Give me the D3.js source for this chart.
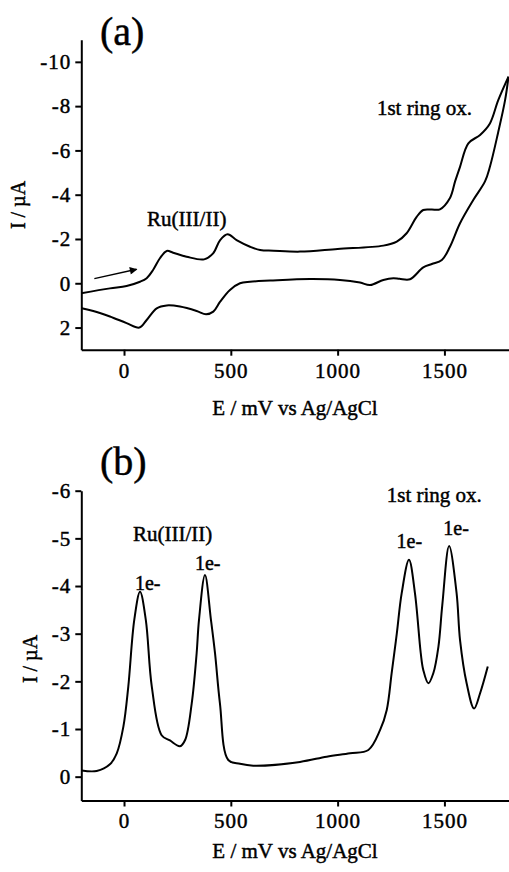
<!DOCTYPE html>
<html>
<head>
<meta charset="utf-8">
<script src="https://cdn.jsdelivr.net/npm/d3@7"></script>
<style>
  body { margin: 0; background: #fff; }
  svg { display: block; font-family: "Liberation Serif", "Times New Roman", serif; }
  svg text { fill: #000; stroke: #000; stroke-width: 0.45px; }
  .axis path, .axis line { stroke: #000; stroke-width: 2; }
  .axis text { font-family: "Liberation Serif", serif; font-size: 21px; letter-spacing: 1px; }
</style>
</head>
<body>
<div id="chart"></div>
<script>
// (a) cyclic voltammogram, forward scan
var cvFwdE = [-200, -66, 12, 75, 106, 136, 168, 200, 230, 293, 375, 417, 450, 485, 527, 590, 637, 700, 824, 1000, 1214, 1277, 1323, 1370, 1401, 1440, 1479, 1526, 1550, 1573, 1612, 1667, 1713, 1752, 1800]
var cvFwdI = [0.45, 0.23, 0.12, -0.07, -0.23, -0.6, -1.13, -1.46, -1.38, -1.2, -1.08, -1.35, -1.95, -2.21, -1.95, -1.65, -1.5, -1.47, -1.43, -1.55, -1.7, -1.88, -2.26, -3.0, -3.31, -3.33, -3.34, -3.85, -4.6, -5.26, -6.32, -6.7, -7.22, -8.27, -9.33]
// (a) reverse scan
var cvRevE = [1800, 1784, 1751, 1713, 1690, 1635, 1573, 1526, 1488, 1441, 1401, 1339, 1290, 1261, 1214, 1152, 1105, 1011, 871, 684, 590, 543, 496, 450, 418, 384, 340, 262, 200, 153, 106, 72, 12, -66, -144, -198]
var cvRevI = [-9.33, -8.27, -6.79, -5.26, -4.6, -3.76, -2.71, -1.65, -1.05, -0.87, -0.72, -0.18, -0.2, -0.23, -0.15, 0.08, -0.03, -0.15, -0.19, -0.12, -0.07, 0, 0.3, 0.83, 1.28, 1.4, 1.25, 1.05, 1.0, 1.13, 1.66, 2.0, 1.8, 1.5, 1.25, 1.13]

// (b) differential pulse voltammogram
var dpvE = [-198, -128, -66, -34, -3, 20, 48, 75, 102, 130, 176, 215, 262, 286, 317, 340, 351, 379, 407, 426, 449, 488, 543, 605, 824, 949, 1058, 1144, 1199, 1230, 1253, 1277, 1300, 1334, 1362, 1389, 1401, 1425, 1448, 1472, 1490, 1522, 1557, 1573, 1604, 1639, 1667, 1703]
var dpvI = [-0.13, -0.12, -0.26, -0.49, -1.05, -1.89, -3.29, -3.88, -3.29, -1.89, -0.87, -0.76, -0.64, -0.77, -1.54, -2.59, -3.29, -4.23, -3.29, -2.59, -1.54, -0.35, -0.27, -0.23, -0.31, -0.42, -0.49, -0.56, -0.98, -1.40, -2.17, -3.0, -3.85, -4.55, -3.85, -2.6, -2.24, -1.96, -2.17, -2.73, -3.6, -4.84, -3.85, -2.87, -1.96, -1.43, -1.75, -2.31]

var xTicks = [0, 500, 1000, 1500]
var yTicksA = [-10, -8, -6, -4, -2, 0, 2]
var yTicksB = [-6, -5, -4, -3, -2, -1, 0]

// annotation anchors in data units (E, I)
var labelsA = [
  {text: 'Ru(III/II)', E: 108, I: -2.59},
  {text: '1st ring ox.', E: 1184, I: -7.6}
]
var labelsB = [
  {text: 'Ru(III/II)', E: 42, I: -4.95, size: 21},
  {text: '1e-', E: 51, I: -3.92, size: 20},
  {text: '1e-', E: 332, I: -4.34, size: 20},
  {text: '1st ring ox.', E: 1230, I: -5.77, size: 21},
  {text: '1e-', E: 1276, I: -4.79, size: 20},
  {text: '1e-', E: 1495, I: -5.07, size: 20}
]
var arrowA = [{E: -139, I: -0.21}, {E: 59, I: -0.63}]

var width = 509, height = 872

var svg = d3.select('#chart')
  .append('svg')
  .attr('width', width)
  .attr('height', height)

svg.append('defs').append('marker')
  .attr('id', 'arrowhead')
  .attr('viewBox', '0 0 10 10')
  .attr('refX', 9)
  .attr('refY', 5)
  .attr('markerWidth', 6)
  .attr('markerHeight', 5)
  .attr('orient', 'auto')
  .append('path')
  .attr('d', 'M0,0 L10,5 L0,10 Z')
  .attr('fill', '#000')

var x_scale = d3.scaleLinear().domain([-200, 1800]).range([81.3, 508.5])
var ya = d3.scaleLinear().domain([-11, 3]).range([39.7, 349.7])
var yb = d3.scaleLinear().domain([-6, 0.5]).range([490.7, 800.5])

function drawAxes(y_scale, yTicks) {
  var y0 = y_scale.range()[1]
  svg.append('g')
    .attr('class', 'axis')
    .attr('transform', 'translate(0,' + y0 + ')')
    .call(d3.axisBottom(x_scale).tickValues(xTicks).tickSize(6).tickSizeOuter(0).tickPadding(7).tickFormat(d3.format('d')))
  svg.append('g')
    .attr('class', 'axis')
    .attr('transform', 'translate(' + x_scale.range()[0] + ',0)')
    .call(d3.axisLeft(y_scale).tickValues(yTicks).tickSize(6).tickSizeOuter(0).tickPadding(4).tickFormat(function(d) { return String(d) }))
  svg.selectAll('.axis').attr('font-family', null).attr('font-size', null)
}

function curve(y_scale, es, is) {
  var pts = es.map(function(e, i) { return [e, is[i]] })
  var line = d3.line()
    .x(function(d) { return x_scale(d[0]) })
    .y(function(d) { return y_scale(d[1]) })
    .curve(d3.curveCatmullRom.alpha(0.5))
  svg.append('path')
    .attr('d', line(pts))
    .attr('fill', 'none')
    .attr('stroke', '#000')
    .attr('stroke-width', 2)
}

function labels(y_scale, list, size) {
  svg.selectAll(null)
    .data(list)
    .enter()
    .append('text')
    .attr('x', function(d) { return x_scale(d.E) })
    .attr('y', function(d) { return y_scale(d.I) })
    .attr('font-size', function(d) { return (d.size || size) + 'px' })
    .text(function(d) { return d.text })
}

// ---- panel (a)
drawAxes(ya, yTicksA)
curve(ya, cvFwdE, cvFwdI)
curve(ya, cvRevE, cvRevI)
labels(ya, labelsA, 21)

svg.append('line')
  .attr('x1', x_scale(arrowA[0].E))
  .attr('y1', ya(arrowA[0].I))
  .attr('x2', x_scale(arrowA[1].E))
  .attr('y2', ya(arrowA[1].I))
  .attr('stroke', '#000')
  .attr('stroke-width', 1.5)
  .attr('marker-end', 'url(#arrowhead)')

svg.append('text').attr('x', 100).attr('y', 45).attr('font-size', '40px').text('(a)')
svg.append('text').attr('x', 295).attr('y', 415).attr('text-anchor', 'middle').attr('font-size', '21px').text('E / mV vs Ag/AgCl')
svg.append('text').attr('transform', 'translate(25,205) rotate(-90)').attr('text-anchor', 'middle').attr('font-size', '20px').text('I / µA')

// ---- panel (b)
drawAxes(yb, yTicksB)
curve(yb, dpvE, dpvI)
labels(yb, labelsB, 20)

svg.append('text').attr('x', 100).attr('y', 475).attr('font-size', '40px').text('(b)')
svg.append('text').attr('x', 295).attr('y', 858).attr('text-anchor', 'middle').attr('font-size', '21px').text('E / mV vs Ag/AgCl')
svg.append('text').attr('transform', 'translate(37,659) rotate(-90)').attr('text-anchor', 'middle').attr('font-size', '20px').text('I / µA')
</script>
</body>
</html>
